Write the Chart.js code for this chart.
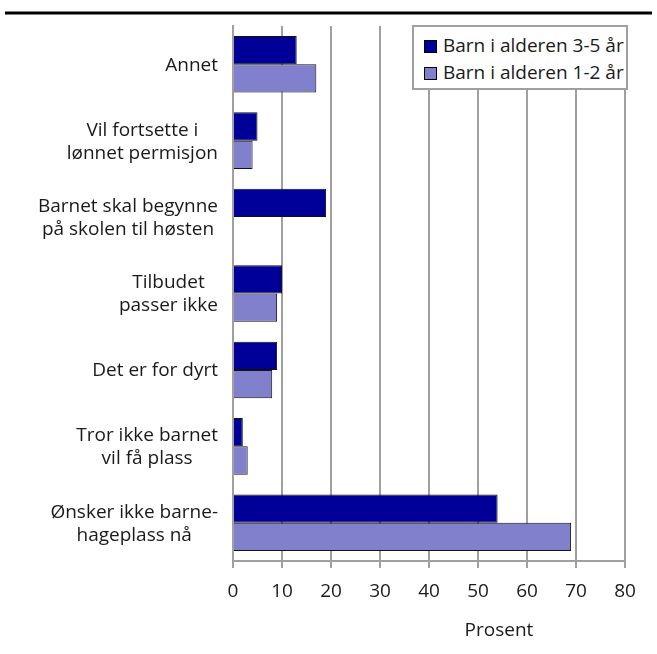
<!DOCTYPE html>
<html>
<head>
<meta charset="utf-8">
<style>
  body { margin: 0; background: #fff; }
  #wrap { position: relative; width: 657px; height: 654px; }
  #legend {
    position: absolute; left: 412px; top: 25px; width: 212px; height: 61px;
    border: 2px solid #a0a0a0; background: #fff;
    font-family: "Open Sans", sans-serif; font-size: 19px; color: #1a1a1a;
  }
  #legend div { position: absolute; left: 10px; white-space: nowrap; line-height: 24px; }
  #legend span {
    display: inline-block; width: 11px; height: 11px; border: 1px solid #000;
    margin-right: 6px; vertical-align: -1px;
  }
</style>
</head>
<body>
<div id="wrap">
  <canvas id="chart" width="657" height="654"></canvas>
  <div id="legend"></div>
</div>

<script src="https://cdn.jsdelivr.net/npm/chart.js"></script>
<script>
  // categories, top to bottom
  const categories = [
    ['Annet'],
    ['Vil fortsette i', 'lønnet permisjon'],
    ['Barnet skal begynne', 'på skolen til høsten'],
    ['Tilbudet', 'passer ikke'],
    ['Det er for dyrt'],
    ['Tror ikke barnet', 'vil få plass'],
    ['Ønsker ikke barne-', 'hageplass nå']
  ];
  const age35 = [13, 5, 19, 10, 9, 2, 54];
  const age12 = [17, 4, 0, 9, 8, 3, 69];
  const seriesNames = ['Barn i alderen 3-5 år', 'Barn i alderen 1-2 år'];
  const seriesColors = ['#000099', '#8080cc'];
  const xTicks = [0, 10, 20, 30, 40, 50, 60, 70, 80];
  const xTitle = 'Prosent';

  const gridColor = '#a0a0a0';
  const textColor = '#1a1a1a';
  const fontCss = '19px "Open Sans", sans-serif';
  const font = { family: '"Open Sans", sans-serif', size: 19 };

  // category labels: lines centred within each block, block right-aligned to the axis
  const extras = {
    id: 'extras',
    afterDraw(chart) {
      const c = chart.ctx;
      const y = chart.scales.y;
      c.save();
      c.strokeStyle = '#000';
      c.lineWidth = 3;
      c.beginPath();
      c.moveTo(5, 13);
      c.lineTo(652, 13);
      c.stroke();

      c.fillStyle = textColor;
      c.font = fontCss;
      c.textAlign = 'center';
      c.textBaseline = 'middle';
      const right = y.right - 15;
      const lh = 23;
      categories.forEach((lines, i) => {
        const mid = y.getPixelForTick(i);
        const w = Math.max(...lines.map(l => c.measureText(l).width));
        const cx = right - w / 2;
        lines.forEach((l, j) => {
          c.fillText(l, cx, mid + (j - (lines.length - 1) / 2) * lh + 1);
        });
      });

      c.fillText(xTitle, 499, 631);
      c.restore();
    }
  };

  new Chart(document.getElementById('chart'), {
    type: 'bar',
    data: {
      labels: categories,
      datasets: [
        { label: seriesNames[0], data: age35, backgroundColor: seriesColors[0] },
        { label: seriesNames[1], data: age12, backgroundColor: seriesColors[1] }
      ]
    },
    options: {
      indexAxis: 'y',
      responsive: false,
      animation: false,
      datasets: {
        bar: {
          borderColor: '#111',
          borderWidth: 1,
          categoryPercentage: 0.74,
          barPercentage: 1
        }
      },
      layout: { padding: { top: 26, right: 32, left: 0, bottom: 0 } },
      plugins: { legend: { display: false }, tooltip: { enabled: false } },
      scales: {
        x: {
          min: 0,
          max: 80,
          afterBuildTicks: s => { s.ticks = xTicks.map(v => ({ value: v })); },
          afterFit: s => { s.height = 93; },
          grid: { color: gridColor, lineWidth: 2, tickLength: 7 },
          border: { color: gridColor, width: 2 },
          ticks: { font, color: textColor, padding: 12, maxRotation: 0 }
        },
        y: {
          afterFit: s => { s.width = 233; },
          grid: { display: false, drawTicks: false, tickLength: 0 },
          border: { color: gridColor, width: 2 },
          ticks: { display: false }
        }
      }
    },
    plugins: [extras]
  });

  const legend = document.getElementById('legend');
  seriesNames.forEach((name, i) => {
    const d = document.createElement('div');
    d.style.top = (i === 0 ? 6 : 33) + 'px';
    d.innerHTML = '<span style="background:' + seriesColors[i] + '"></span>' + name;
    legend.appendChild(d);
  });
</script>
</body>
</html>
